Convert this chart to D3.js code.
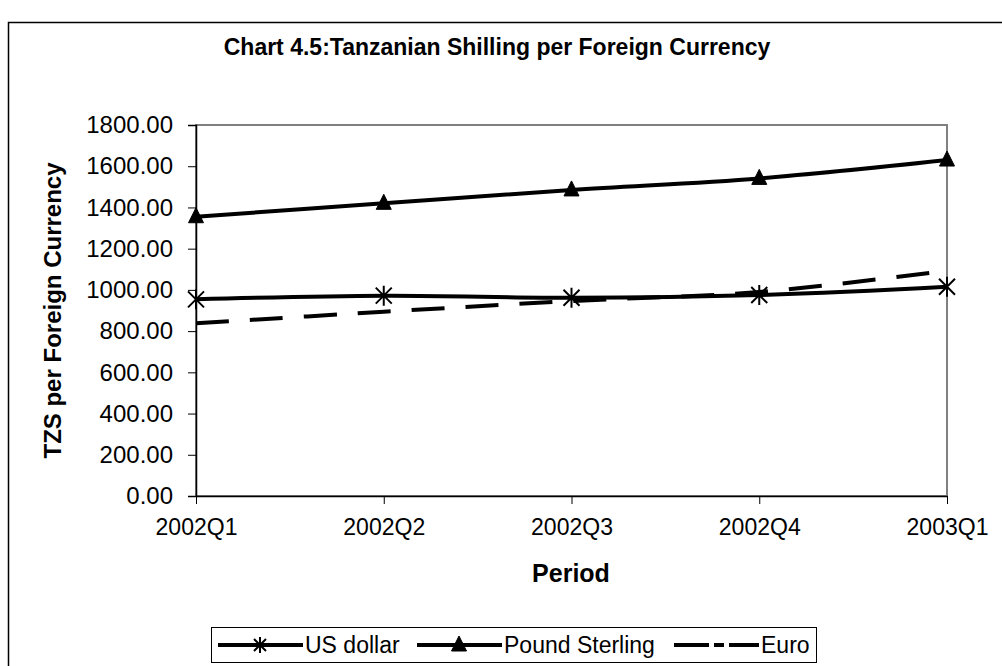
<!DOCTYPE html>
<html>
<head>
<meta charset="utf-8">
<script src="https://cdnjs.cloudflare.com/ajax/libs/d3/7.8.5/d3.min.js"></script>
<style>
  body { margin: 0; background: #fff; }
  svg { font-family: "Liberation Sans", Arial, sans-serif; }
</style>
</head>
<body>
<div id="chart"></div>
<script>
// data
var periods = ["2002Q1", "2002Q2", "2002Q3", "2002Q4", "2003Q1"];
var usDollar = [954, 972, 962, 975, 1015];
var poundSterling = [1355, 1420, 1485, 1541, 1630];
var euro = [838, 894, 946, 990, 1093];
var yTicks = [0, 200, 400, 600, 800, 1000, 1200, 1400, 1600, 1800];

var width = 1002, height = 666;
var margin = { top: 125, left: 196, right: 55, bottom: 170 };
var plotW = width - margin.left - margin.right;
var plotH = height - margin.top - margin.bottom;

var svg = d3.select("#chart").append("svg")
  .attr("width", width)
  .attr("height", height);

// outer chart border (runs off the right and bottom edge)
svg.append("rect")
  .attr("x", 8.5).attr("y", 22.5)
  .attr("width", 1010).attr("height", 660)
  .attr("fill", "none").attr("stroke", "#000").attr("stroke-width", 1.5);

svg.append("text")
  .attr("x", 497).attr("y", 55)
  .attr("text-anchor", "middle")
  .style("font-size", "23px").style("font-weight", "bold")
  .text("Chart 4.5:Tanzanian Shilling per Foreign Currency");

var g = svg.append("g")
  .attr("transform", "translate(" + margin.left + "," + margin.top + ")");

var x = d3.scalePoint().domain(periods).range([0, plotW]);
var y = d3.scaleLinear().domain([0, 1800]).range([plotH, 0]);

// plot area frame
g.append("rect")
  .attr("x", 0).attr("y", 0).attr("width", plotW).attr("height", plotH)
  .attr("fill", "none").attr("stroke", "#808080").attr("stroke-width", 2);

// y axis
var yAxis = d3.axisLeft(y).tickValues(yTicks).tickSize(8).tickPadding(15)
  .tickFormat(d3.format(".2f"));
g.append("g").attr("class", "y axis")
  .call(yAxis)
  .call(function(a) {
    a.select(".domain").attr("stroke", "#000").attr("stroke-width", 1.5);
    a.selectAll(".tick line").attr("stroke", "#000");
    a.selectAll("text").style("font-size", "24px").attr("fill", "#000");
  });

// x axis
var xAxis = d3.axisBottom(x).tickSize(8).tickPadding(15).tickSizeOuter(0);
g.append("g").attr("class", "x axis")
  .attr("transform", "translate(0," + plotH + ")")
  .call(xAxis)
  .call(function(a) {
    a.select(".domain").attr("stroke", "#000").attr("stroke-width", 1.5);
    a.selectAll(".tick line").attr("stroke", "#000");
    a.selectAll("text").style("font-size", "23px").attr("fill", "#000");
  });

// axis titles
svg.append("text")
  .attr("x", 571).attr("y", 582)
  .attr("text-anchor", "middle")
  .style("font-size", "25px").style("font-weight", "bold")
  .text("Period");

svg.append("text")
  .attr("transform", "translate(61," + (margin.top + plotH / 2) + ") rotate(-90)")
  .attr("text-anchor", "middle")
  .style("font-size", "24px").style("font-weight", "bold")
  .text("TZS per Foreign Currency");

var line = d3.line()
  .x(function(d, i) { return x(periods[i]); })
  .y(function(d) { return y(d); })
  .curve(d3.curveCardinal);

function starPath(w, h) {
  return "M" + (-w) + "," + (-w) + "L" + w + "," + w +
    "M" + (-w) + "," + w + "L" + w + "," + (-w) +
    "M0," + (-h) + "L0," + h;
}
var triPath = "M0,-9L7.5,6L-7.5,6Z";

var series = [
  { name: "US dollar", values: usDollar, dash: null, marker: "star" },
  { name: "Pound Sterling", values: poundSterling, dash: null, marker: "tri" },
  { name: "Euro", values: euro, dash: "33,21", marker: null }
];

series.forEach(function(s) {
  g.append("path")
    .datum(s.values)
    .attr("d", line)
    .attr("fill", "none")
    .attr("stroke", "#000")
    .attr("stroke-width", 4)
    .attr("stroke-dasharray", s.dash);

  if (s.marker) {
    g.selectAll(".m-" + s.marker)
      .data(s.values)
      .enter().append("path")
      .attr("transform", function(d, i) {
        return "translate(" + x(periods[i]) + "," + y(d) + ")";
      })
      .attr("d", s.marker === "star" ? starPath(8, 10) : triPath)
      .attr("fill", s.marker === "tri" ? "#000" : "none")
      .attr("stroke", "#000")
      .attr("stroke-width", s.marker === "star" ? 2 : 1);
  }
});

// legend
var legend = svg.append("g").attr("transform", "translate(211,627)");
legend.append("rect")
  .attr("x", 0.5).attr("y", 0.5).attr("width", 605).attr("height", 35)
  .attr("fill", "#fff").attr("stroke", "#000").attr("stroke-width", 1);

var legendX = [7, 206, 463];
series.forEach(function(s, i) {
  var lg = legend.append("g").attr("transform", "translate(" + legendX[i] + ",18)");
  lg.append("line")
    .attr("x1", 0).attr("x2", 85)
    .attr("stroke", "#000").attr("stroke-width", 4)
    .attr("stroke-dasharray", s.dash ? "35,5,10,5,40" : null);
  if (s.marker) {
    lg.append("path")
      .attr("transform", "translate(42,0)")
      .attr("d", s.marker === "star" ? starPath(6, 8) : triPath)
      .attr("fill", s.marker === "tri" ? "#000" : "none")
      .attr("stroke", "#000")
      .attr("stroke-width", s.marker === "star" ? 2 : 1);
  }
  lg.append("text")
    .attr("x", 87).attr("y", 8)
    .style("font-size", "23px")
    .text(s.name);
});
</script>
</body>
</html>
